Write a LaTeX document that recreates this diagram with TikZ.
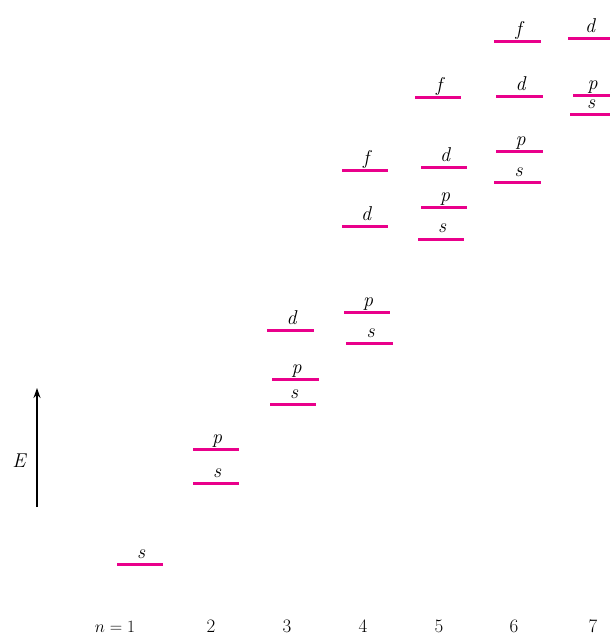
\documentclass[tikz,border=0pt]{standalone}
\usetikzlibrary{arrows.meta}

\definecolor{orbpink}{RGB}{233,0,139}

\tikzset{
  shell/.style={orbpink,line width=3pt},
  orb/.style={anchor=base,font=\fontsize{20}{22}\selectfont\itshape},
  nlab/.style={anchor=base,font=\fontsize{19}{22}\selectfont},
}

\begin{document}
\begin{tikzpicture}[x=1pt,y=-1pt]
  \useasboundingbox (0,0) rectangle (610,636);

  % Energy levels: name/letter/left/right/height
  \foreach \nm/\l/\xa/\xb/\y in {
      1s/s/117/163/564,
      2s/s/193/239/483, 2p/p/193/239/449,
      3s/s/270/316/404, 3p/p/272/319/379, 3d/d/267/314/330,
      4s/s/346/393/343, 4p/p/344/390/312, 4d/d/342/388/226, 4f/f/342/388/171,
      5s/s/418/464/239, 5p/p/421/467/208, 5d/d/421/467/168, 5f/f/415/461/98,
      6s/s/494/541/183, 6p/p/496/543/152, 6d/d/496/543/97, 6f/f/494/541/42,
      7s/s/570/610/115, 7p/p/573/610/96, 7d/d/568/610/39}{
    \draw[shell] (\xa,\y) -- (\xb,\y);
    \node[orb] (lab\nm) at ({(\xa+\xb)/2+1},\y-6) {\l};
  }

  % Shell numbers
  \node[nlab] (n1) at (115,632) {$n = 1$};
  \foreach \n/\x in {2/211,3/287,4/363,5/439,6/514,7/593}
    \node[nlab] (n\n) at (\x,632) {\n};

  % Energy axis
  \coordinate (Ebot) at (37,507);
  \coordinate (Etop) at (37,388);
  \draw[-{Stealth[length=10pt,width=7pt]},line width=2pt] (Ebot) -- (Etop);
  \node[orb] (E) at (19,467) {E};
\end{tikzpicture}
\end{document}
